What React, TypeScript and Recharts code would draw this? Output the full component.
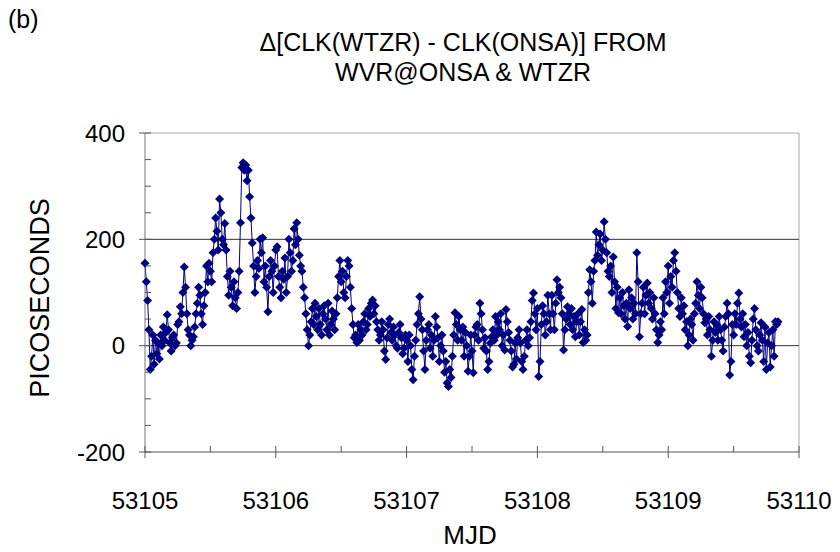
import React from 'react';
import { LineChart, Line, XAxis, YAxis, ReferenceLine } from 'recharts';

// sampled every 0.01 day starting at MJD 53105
const MJD_START = 53105;
const SAMPLE_STEP = 0.01;

// picoseconds
const CLOCK_DIFF = [
  155, 120, 85, 30, -45, -20, 20, -35, 10, -15,
  5, -25, 20, 0, 35, 10, 25, 58, 30, 5,
  -10, 15, 20, 0, 5, 40, 45, 73, 60, 100,
  148, 110, 60, 30, 20, 0, 10, 17, 35, 60,
  80, 110, 95, 60, 40, 75, 100, 150, 120, 155,
  140, 120, 175, 200, 240, 215, 180, 276, 250, 200,
  190, 230, 180, 130, 95, 140, 110, 75, 120, 90,
  70, 100, 140, 231, 335, 344, 330, 340, 310, 330,
  280, 240, 193, 150, 100, 130, 160, 145, 200, 175,
  203, 120, 150, 110, 64, 130, 160, 140, 100, 150,
  180, 186, 130, 110, 90, 140, 125, 165, 100, 130,
  200, 175, 140, 160, 220, 190, 231, 200, 170, 150,
  140, 110, 90, 60, 30, 0, 20, 45, 70, 40,
  80, 55, 30, 70, 40, 20, 60, 75, 50, 30,
  80, 20, 40, 65, 50, 30, 60, 90, 130, 160,
  120, 140, 100, 90, 130, 160, 150, 110, 70, 40,
  15, 20, 6, 40, 10, 30, 20, 45, 60, 30,
  40, 70, 55, 80, 86, 60, 75, 45, 30, 10,
  20, 45, 30, -10, -26, 15, 40, 50, 25, 10,
  35, 20, 0, -5, 25, 40, 15, -15, -5, 20,
  10, -30, 20, 0, -45, -64, -20, 10, 40, 60,
  92, 50, 30, -10, -45, 10, 30, 40, -5, 20,
  -20, 10, 55, 35, 15, -30, 0, 20, -10, -50,
  -30, -70, -77, -45, -60, -20, 20, 62, 40, 10,
  55, 30, 10, 35, -20, 25, 0, -48, -20, 20,
  -10, -51, 20, 35, 40, 10, 80, 60, 30, -5,
  15, -10, -45, -30, 5, 17, 30, 10, 55, 20,
  45, 30, 60, 0, 20, -8, 68, 45, 25, 10,
  -10, -40, -35, 5, -25, 15, 30, 5, -30, -45,
  -20, 10, 30, 0, 15, 45, 85, 99, 60, 30,
  70, -58, -30, 40, 75, 60, 20, 45, 95, 60,
  30, 95, 60, 30, 80, 124, 100, 110, 90, 60,
  -8, 30, 50, 73, 60, 40, 70, 30, 55, 17,
  45, 60, 20, 45, 68, 6, 30, 10, 20, 100,
  143, 120, 80, 140, 160, 214, 170, 190, 210, 160,
  180, 233, 200, 175, 140, 130, 150, 100, 167, 120,
  70, 110, 62, 90, 60, 100, 75, 50, 80, 36,
  105, 70, 90, 50, 80, 60, 175, 120, 17, 60,
  80, 110, 60, 95, 118, 80, 100, 70, 50, 90,
  60, 30, 6, 20, 45, 30, 90, 60, 120, 100,
  150, 80, 130, 110, 160, 175, 140, 100, 70, 55,
  90, 60, 75, 30, 45, 0, 20, 50, 40, 10,
  60, 80, 120, 95, 70, 110, 90, 60, 43, 50,
  20, 55, 30, -20, 10, 45, 25, 40, 10, 55,
  30, 10, -10, 35, 55, 80, 60, -55, -30, 40,
  20, 60, 40, 80, 99, 50, 35, 60, 17, 40,
  0, 25, -20, -32, 10, 50, 70, 30, 0, -10,
  20, 43, 10, -30, 35, -45, 5, 25, -40, 0,
  30, -20, 45, 40, 45,
];

const X_TICKS = [53105, 53105.5, 53106, 53106.5, 53107, 53107.5, 53108, 53108.5, 53109, 53109.5, 53110];
const Y_TICKS = [-200, -150, -100, -50, 0, 50, 100, 150, 200, 250, 300, 350, 400];

const data = CLOCK_DIFF.map((v, i) => ({ mjd: MJD_START + i * SAMPLE_STEP, ps: v }));

const FONT = '"Liberation Sans", Arial, sans-serif';
const NAVY = '#000080';

function Diamond(props: any) {
  const { cx, cy, index } = props;
  if (cx == null || cy == null) return null;
  const r = 4.5;
  return (
    <polygon
      key={index}
      points={`${cx},${cy - r} ${cx + r},${cy} ${cx},${cy + r} ${cx - r},${cy}`}
      fill={NAVY}
    />
  );
}

function YTick({ x, y, payload }: any) {
  const v = payload.value;
  const major = v % 200 === 0;
  const ax = x + 20;
  return (
    <g>
      <line x1={major ? ax - 6 : ax} x2={ax + 6} y1={y} y2={y} stroke="#555" />
      {major && (
        <text x={x} y={y} textAnchor="end" dominantBaseline="central" fontSize={24} fill="#000" fontFamily={FONT}>
          {v}
        </text>
      )}
    </g>
  );
}

function XTick({ x, y, payload }: any) {
  const v = payload.value;
  const major = Number.isInteger(v);
  const ay = y - 48;
  return (
    <g>
      <line x1={x} x2={x} y1={ay - 6} y2={major ? ay + 6 : ay} stroke="#555" />
      {major && (
        <text x={x} y={y} textAnchor="middle" dominantBaseline="central" fontSize={24} fill="#000" fontFamily={FONT}>
          {v}
        </text>
      )}
    </g>
  );
}

export default function App() {
  return (
    <div style={{ position: 'absolute', left: 0, top: 0, width: 840, height: 552, background: '#fff', fontFamily: FONT }}>
      <div style={{ position: 'absolute', left: 8, top: 5, fontSize: 25 }}>(b)</div>
      <div style={{ position: 'absolute', left: 0, width: 926, top: 27, textAlign: 'center', fontSize: 25, lineHeight: '30px' }}>
        Δ[CLK(WTZR) - CLK(ONSA)] FROM
        <br />
        WVR@ONSA &amp; WTZR
      </div>
      <div style={{ position: 'absolute', left: 0, width: 940, top: 520, textAlign: 'center', fontSize: 26 }}>MJD</div>
      <div
        style={{
          position: 'absolute',
          left: 40,
          top: 298,
          fontSize: 27,
          transform: 'translate(-50%, -50%) rotate(-90deg)',
          whiteSpace: 'nowrap',
        }}
      >
        PICOSECONDS
      </div>
      <LineChart width={840} height={552} data={data} margin={{ top: 133, right: 41, left: 65, bottom: 40 }}>
        <XAxis
          dataKey="mjd"
          type="number"
          domain={[53105, 53110]}
          ticks={X_TICKS}
          interval={0}
          height={60}
          tickSize={0}
          tickMargin={48}
          tick={<XTick />}
          axisLine={{ stroke: '#555' }}
          allowDecimals
        />
        <YAxis
          type="number"
          domain={[-200, 400]}
          ticks={Y_TICKS}
          interval={0}
          width={80}
          tickSize={0}
          tickMargin={20}
          tick={<YTick />}
          axisLine={{ stroke: '#777' }}
        />
        <ReferenceLine y={400} stroke="#aaa" />
        <ReferenceLine x={53110} stroke="#aaa" />
        <ReferenceLine y={200} stroke="#333" />
        <ReferenceLine y={0} stroke="#333" />
        <Line
          type="linear"
          dataKey="ps"
          stroke={NAVY}
          strokeWidth={1}
          dot={Diamond}
          activeDot={false}
          isAnimationActive={false}
        />
      </LineChart>
    </div>
  );
}
